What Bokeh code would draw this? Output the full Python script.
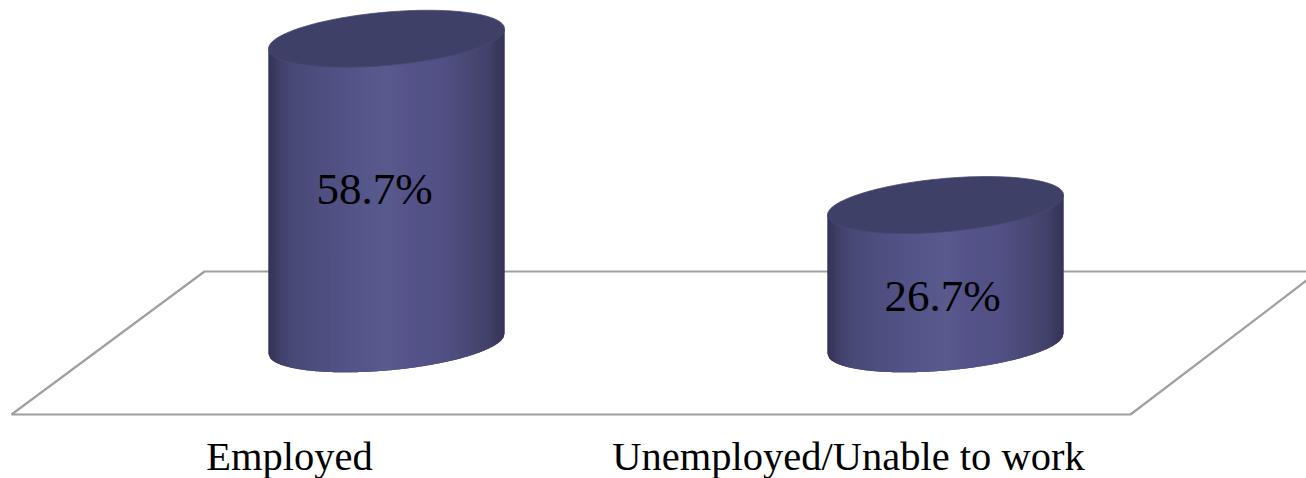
import numpy as np
from bokeh.plotting import figure
from bokeh.embed import file_html
from bokeh.resources import INLINE
from bokeh.core.properties import value

categories = ["Employed", "Unemployed/Unable to work"]
values = [58.7, 26.7]
value_labels = ["58.7%", "26.7%"]
label_heights = [29.7, 9.2]

# Scale: category index -> page pixel, percent -> page pixel
PX0, PX_PER_CAT = 386.0, 559.0
PY0, PY_PER_PCT = 343.3, 5.196
W, H = 1306, 478
x_start, x_end = (0 - PX0) / PX_PER_CAT, (W - PX0) / PX_PER_CAT
y_top, y_bottom = PY0 / PY_PER_PCT, (PY0 - H) / PY_PER_PCT

def fx(px):
    return (px - PX0) / PX_PER_CAT

def fy(py):
    return (PY0 - py) / PY_PER_PCT

p = figure(width=W, height=H, x_range=(x_start, x_end), y_range=(y_bottom, y_top),
           output_backend="svg", toolbar_location=None,
           x_axis_location=None, y_axis_location=None,
           min_border=0, outline_line_color=None, background_fill_color="white")
p.grid.visible = False

# Floor
FLOOR = "#a0a0a0"
p.line(fx(np.array([1306, 204, 11, 1130, 1306])), fy(np.array([271, 271, 414, 414, 280])),
       line_color=FLOOR, line_width=2.2)

# Cylinders
A = 118 / PX_PER_CAT      # half width
B = 26.7 / PY_PER_PCT     # ellipse half height
S = 10 / PY_PER_PCT       # tilt: right side higher
stops_u = [-1.0, -0.93, -0.8, -0.55, -0.2, 0.0, 0.2, 0.45, 0.7, 0.88, 1.0]
stops_c = [(0x33, 0x33, 0x58), (0x3c, 0x3c, 0x64), (0x49, 0x49, 0x76), (0x4e, 0x4e, 0x80),
           (0x55, 0x56, 0x8a), (0x59, 0x5a, 0x8d), (0x54, 0x53, 0x89), (0x52, 0x51, 0x85),
           (0x48, 0x48, 0x75), (0x40, 0x40, 0x67), (0x33, 0x33, 0x56)]

def colour(u):
    return "#%02x%02x%02x" % tuple(int(round(np.interp(u, stops_u, [c[k] for c in stops_c]))) for k in range(3))

def arc(u):
    return -B * np.sqrt(np.clip(1 - u * u, 0, 1)) + S * u

edges = np.linspace(-1, 1, 119)
for i, v in enumerate(values):
    # solid underlay so that no white shows between the strips
    uu = np.linspace(-1, 1, 121)
    p.patch(np.r_[i + A * uu, i + A * uu[::-1]], np.r_[v + S * uu, arc(uu[::-1])],
            fill_color="#4c4c7c", line_color=None)
    xs, ys, cs = [], [], []
    for j, u0 in enumerate(edges[:-1]):
        # each strip runs on under the next one
        u_next = np.linspace(u0, min(edges[j + 1] + 0.01, 1), 3)
        xs.append(list(i + A * u_next) + list(i + A * u_next[::-1]))
        ys.append(list(v + S * u_next) + list(arc(u_next[::-1])))
        cs.append(colour(u0 + 1 / 118))
    p.patches(xs, ys, fill_color=cs, line_color=None, fill_alpha=1.0)
    t = np.linspace(0, 2 * np.pi, 181)
    p.patch(i + A * np.cos(t), v + B * np.sin(t) + S * np.cos(t),
            fill_color="#3f4068", line_color="#4a4b72", line_width=0.8)

# Text
FONT = value("Liberation Serif")
p.text(fx(np.array([374, 942])), label_heights, text=value_labels, text_font=FONT, text_font_size="45px",
       text_color="#000000", text_align="center", text_baseline="middle")
p.text([0, 1], [fy(455.5)] * 2, text=categories, x_offset=-97, text_font=FONT, text_font_size="40.5px",
       text_color="#000000", text_align="center", text_baseline="middle")

open("out.html", "w").write(file_html(p, INLINE))
